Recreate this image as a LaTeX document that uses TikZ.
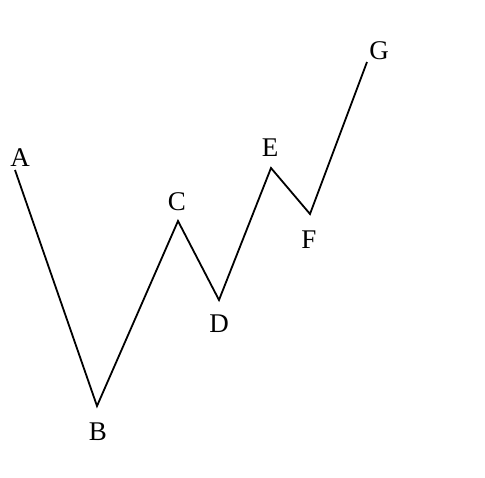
\documentclass[tikz,border=0pt]{standalone}
\usepackage{fontspec}
\setmainfont{Liberation Serif}
\usetikzlibrary{positioning}
\begin{document}
\begin{tikzpicture}[x=1pt,y=-1pt]
    \tikzset{lbl/.style={font=\fontsize{27}{32}\selectfont,inner sep=0pt},
      wave/.style={line width=1.8pt,line join=miter}}
    \useasboundingbox[fill=white] (0,0) rectangle (485,477);
    \coordinate (a) at (15,170);
    \coordinate (b) at (97,406);
    \coordinate (c) at (178,221);
    \coordinate (d) at (219,300);
    \coordinate (e) at (271,168);
    \coordinate (f) at (310,214);
    \coordinate (g) at (367,62);
    \draw[wave] (a) -- (b) -- (c) -- (d) -- (e) -- (f) -- (g);
    \node[lbl] (la) at (20,158) {A};
    \node[lbl] (lb) at (98,432) {B};
    \node[lbl] (lc) at (177,202) {C};
    \node[lbl] (ld) at (219,324) {D};
    \node[lbl] (le) at (270,148) {E};
    \node[lbl] (lf) at (309,240) {F};
    \node[lbl] (lg) at (379,51) {G};
  \end{tikzpicture}
\end{document}
